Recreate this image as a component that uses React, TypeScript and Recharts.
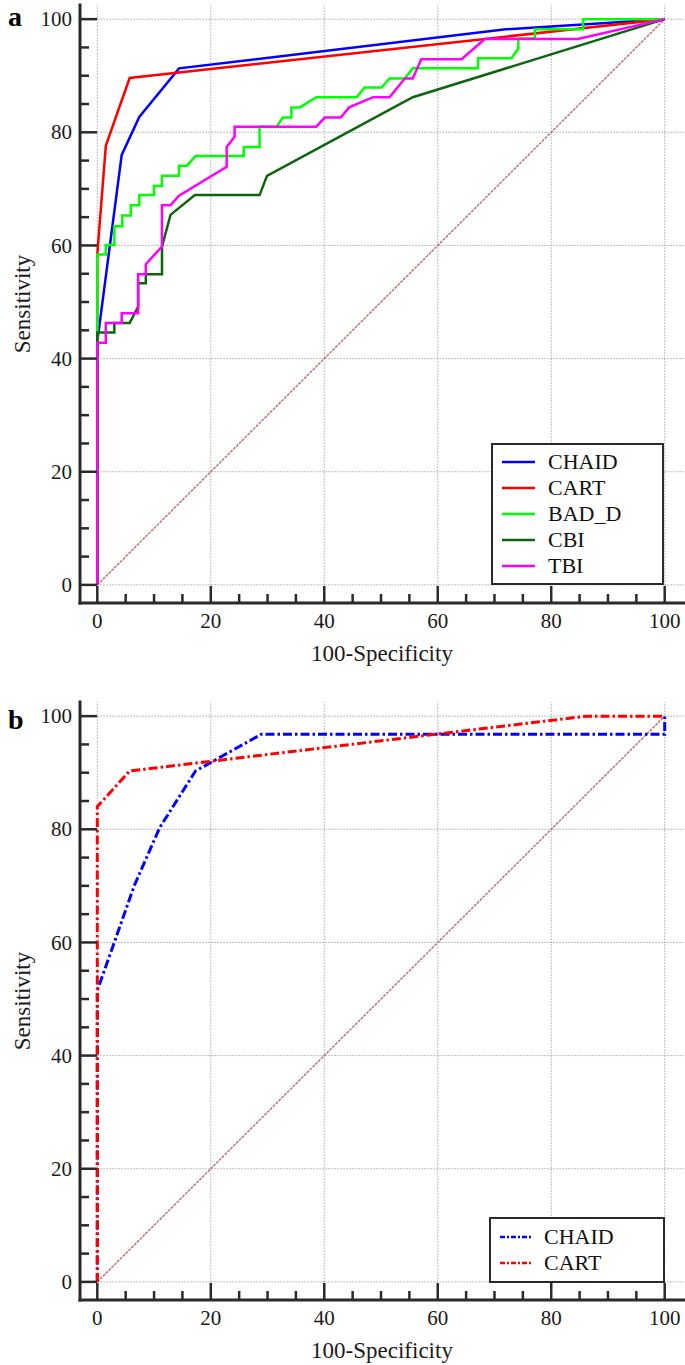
import React from 'react';
import { LineChart, Line, XAxis, YAxis, ReferenceLine, Legend } from 'recharts';

const FONT = '"Liberation Serif", "Times New Roman", Times, serif';
const AXIS_COLOR = '#2a2a2a';
const TEXT_COLOR = '#1a1a1a';
const GRID_COLOR = '#a8a8a8';

// ---- axes ----
const TICKS = [0, 5, 10, 15, 20, 25, 30, 35, 40, 45, 50, 55, 60, 65, 70, 75, 80, 85, 90, 95, 100];
const MAJOR_TICKS = [0, 20, 40, 60, 80, 100];
const X_DOMAIN: [number, number] = [-3.05, 103.4];
const Y_DOMAIN: [number, number] = [-3.2, 102.5];
const X_TITLE = '100-Specificity';
const Y_TITLE = 'Sensitivity';

// ---- reference diagonal ----
const DIAG_X = [0, 100];
const DIAG_Y = [0, 100];

// ---- panel a ----
const CHAID_A_X = [0, 0, 4.3, 7.4, 14.4, 72, 100];
const CHAID_A_Y = [0, 43, 76, 82.7, 91.3, 98.2, 100];

const CART_A_X = [0, 0, 1.5, 5.7, 100];
const CART_A_Y = [0, 58.5, 77.6, 89.6, 100];

const BADD_A_X = [0, 0, 1.5, 1.5, 3.0, 3.0, 4.4, 4.4, 5.9, 5.9, 7.4, 7.4, 10.0, 10.0, 11.4, 11.4, 14.4, 14.4, 15.8, 17.3, 25.8, 25.8, 28.6, 28.6, 31.6, 32.7, 34.2, 34.2, 35.7, 38.6, 45.7, 47.1, 50.1, 51.5, 54.2, 55.6, 67.1, 67.1, 73.0, 74.2, 74.2, 77.1, 77.1, 85.6, 85.6, 100];
const BADD_A_Y = [0, 58.4, 58.4, 60.1, 60.1, 63.4, 63.4, 65.3, 65.3, 67.1, 67.1, 68.9, 68.9, 70.5, 70.5, 72.3, 72.3, 74.1, 74.1, 75.8, 75.8, 77.4, 77.4, 81.0, 81.0, 82.6, 82.6, 84.4, 84.4, 86.2, 86.2, 87.9, 87.9, 89.5, 89.5, 91.3, 91.3, 93.1, 93.1, 94.8, 96.6, 96.6, 98.2, 98.2, 100, 100];

const CBI_A_X = [0, 0, 3.0, 3.0, 5.7, 7.2, 7.2, 8.55, 8.55, 11.4, 11.4, 12.9, 17.2, 28.6, 29.9, 55.6, 100];
const CBI_A_Y = [0, 44.6, 44.6, 46.3, 46.3, 49.2, 53.3, 53.3, 54.9, 54.9, 59.8, 65.4, 68.9, 68.9, 72.3, 86.2, 100];

const TBI_A_X = [0, 0, 1.5, 1.5, 4.3, 4.3, 7.2, 7.2, 8.55, 8.55, 11.4, 11.4, 12.9, 14.4, 22.8, 22.8, 24.2, 24.2, 38.6, 40.1, 42.9, 44.4, 48.6, 51.5, 54.2, 55.6, 57.1, 64.2, 68.3, 84.7, 100];
const TBI_A_Y = [0, 42.8, 42.8, 46.3, 46.3, 48.0, 48.0, 54.9, 54.9, 56.7, 59.8, 67.1, 67.1, 68.8, 73.9, 77.4, 79.2, 81.0, 81.0, 82.6, 82.6, 84.4, 86.2, 86.2, 89.5, 89.5, 92.9, 92.9, 96.5, 96.5, 100];

// ---- panel b ----
const CHAID_B_X = [0, 0, 6.5, 11, 17.3, 28.9, 100, 100];
const CHAID_B_Y = [0, 51.5, 70, 80.3, 90.3, 96.8, 96.8, 100];

const CART_B_X = [0, 0, 5.7, 86.2, 100];
const CART_B_Y = [0, 84, 90.3, 100, 100];

type Series = { name: string; color: string; xs: number[]; ys: number[]; dash?: string; width: number };

const SERIES_A: Series[] = [
  { name: 'CHAID', color: '#0000ff', xs: CHAID_A_X, ys: CHAID_A_Y, width: 2.5 },
  { name: 'CART', color: '#ff0000', xs: CART_A_X, ys: CART_A_Y, width: 2.5 },
  { name: 'BAD_D', color: '#00ff00', xs: BADD_A_X, ys: BADD_A_Y, width: 2.5 },
  { name: 'CBI', color: '#0d650d', xs: CBI_A_X, ys: CBI_A_Y, width: 2.5 },
  { name: 'TBI', color: '#ff00ff', xs: TBI_A_X, ys: TBI_A_Y, width: 2.5 },
];

const SERIES_B: Series[] = [
  { name: 'CHAID', color: '#0000ff', xs: CHAID_B_X, ys: CHAID_B_Y, dash: '9 3 2.5 3', width: 3 },
  { name: 'CART', color: '#ff0000', xs: CART_B_X, ys: CART_B_Y, dash: '9 3 2.5 3', width: 3 },
];

const toPoints = (xs: number[], ys: number[]) => xs.map((x, i) => ({ x, y: ys[i] }));

const XTick = (props: any) => {
  const { x, y, payload } = props;
  const v = payload.value;
  const major = MAJOR_TICKS.includes(v);
  return (
    <g>
      <line x1={x} x2={x} y1={y} y2={y - (major ? 17 : 9)} stroke={AXIS_COLOR} strokeWidth={2.5} />
      {major && (
        <text x={x} y={y + 25} textAnchor="middle" fontFamily={FONT} fontSize={21} fill={TEXT_COLOR}>
          {v}
        </text>
      )}
    </g>
  );
};

const YTick = (props: any) => {
  const { x, y, payload } = props;
  const v = payload.value;
  const major = MAJOR_TICKS.includes(v);
  return (
    <g>
      <line x1={x} x2={x + (major ? 17 : 9)} y1={y} y2={y} stroke={AXIS_COLOR} strokeWidth={2.5} />
      {major && (
        <text x={x - 8} y={y} dy="0.34em" textAnchor="end" fontFamily={FONT} fontSize={21} fill={TEXT_COLOR}>
          {v}
        </text>
      )}
    </g>
  );
};

const XTitle = (props: any) => {
  const vb = props.viewBox || props;
  return (
    <text x={vb.x + vb.width / 2} y={vb.y + 58} textAnchor="middle" fontFamily={FONT} fontSize={23} fill={TEXT_COLOR}>
      {X_TITLE}
    </text>
  );
};

const YTitle = (props: any) => {
  const vb = props.viewBox || props;
  const cx = 22;
  const cy = vb.y + vb.height / 2;
  return (
    <text x={cx} y={cy} dy="0.35em" textAnchor="middle" transform={`rotate(-90, ${cx}, ${cy})`} fontFamily={FONT} fontSize={23} fill={TEXT_COLOR}>
      {Y_TITLE}
    </text>
  );
};

type LegendBoxProps = { items: Series[]; w: number; h: number; padTop: number; sampleW: number; textGap: number };

const LegendBox = ({ items, w, h, padTop, sampleW, textGap }: LegendBoxProps) => (
  <div
    style={{
      width: w,
      height: h,
      boxSizing: 'border-box',
      border: `2px solid ${AXIS_COLOR}`,
      background: '#fff',
      paddingTop: padTop,
    }}
  >
    {items.map((it) => (
      <div key={it.name} style={{ display: 'flex', alignItems: 'center', height: 26 }}>
        <svg width={sampleW} height={6} style={{ marginLeft: 9, display: 'block' }}>
          <line x1={0} x2={sampleW} y1={3} y2={3} stroke={it.color} strokeWidth={2.5} strokeDasharray={it.dash ? '5 2 2 2' : undefined} />
        </svg>
        <span style={{ marginLeft: textGap, fontFamily: FONT, fontSize: 22, color: '#111', lineHeight: '26px', whiteSpace: 'nowrap' }}>
          {it.name}
        </span>
      </div>
    ))}
  </div>
);

type PanelProps = {
  series: Series[];
  height: number;
  letter: string;
  letterY: number;
  legend: { left: number; top: number; w: number; h: number; padTop: number; sampleW: number; textGap: number };
};

const Panel = ({ series, height, letter, letterY, legend }: PanelProps) => {
  const xAxisHeight = height - 603;
  return (
    <div style={{ position: 'relative', width: 685, height }}>
      <LineChart width={685} height={height} margin={{ top: 5, right: 1, bottom: 0, left: 0 }}>
        <XAxis
          type="number"
          dataKey="x"
          domain={X_DOMAIN}
          ticks={TICKS}
          interval={0}
          tickSize={0}
          tickMargin={0}
          tick={(p: any) => <XTick {...p} />}
          tickLine={false}
          axisLine={{ stroke: AXIS_COLOR, strokeWidth: 3, strokeLinecap: 'square' }}
          height={xAxisHeight}
          allowDataOverflow
          label={(p: any) => <XTitle {...p} />}
        />
        <YAxis
          type="number"
          dataKey="y"
          domain={Y_DOMAIN}
          ticks={TICKS}
          interval={0}
          tickSize={0}
          tickMargin={0}
          tick={(p: any) => <YTick {...p} />}
          tickLine={false}
          axisLine={{ stroke: AXIS_COLOR, strokeWidth: 3, strokeLinecap: 'square' }}
          width={80}
          allowDataOverflow
          label={(p: any) => <YTitle {...p} />}
        />
        {MAJOR_TICKS.map((v) => (
          <ReferenceLine
            key={`h${v}`}
            segment={[{ x: 0, y: v }, { x: X_DOMAIN[1], y: v }]}
            stroke={GRID_COLOR}
            strokeDasharray="1.5 1.5"
            strokeWidth={1}
            ifOverflow="visible"
          />
        ))}
        {MAJOR_TICKS.map((v) => (
          <ReferenceLine
            key={`v${v}`}
            segment={[{ x: v, y: 0 }, { x: v, y: Y_DOMAIN[1] }]}
            stroke={GRID_COLOR}
            strokeDasharray="1.5 1.5"
            strokeWidth={1}
            ifOverflow="visible"
          />
        ))}
        <Line
          data={toPoints(DIAG_X, DIAG_Y)}
          dataKey="y"
          type="linear"
          stroke="#c07575"
          strokeWidth={1.5}
          strokeDasharray="3 1"
          dot={false}
          activeDot={false}
          legendType="none"
          isAnimationActive={false}
        />
        {series.map((s) => (
          <Line
            key={s.name}
            name={s.name}
            data={toPoints(s.xs, s.ys)}
            dataKey="y"
            type="linear"
            stroke={s.color}
            strokeWidth={s.width}
            strokeDasharray={s.dash}
            dot={false}
            activeDot={false}
            isAnimationActive={false}
          />
        ))}
        <Legend
          layout="vertical"
          align="center"
          verticalAlign="middle"
          wrapperStyle={{ left: legend.left, top: legend.top, width: legend.w, height: legend.h }}
          content={() => (
            <LegendBox
              items={series}
              w={legend.w}
              h={legend.h}
              padTop={legend.padTop}
              sampleW={legend.sampleW}
              textGap={legend.textGap}
            />
          )}
        />
      </LineChart>
      <svg width={50} height={50} style={{ position: 'absolute', left: 0, top: 0 }}>
        <text x={8} y={letterY} fontFamily={FONT} fontWeight="bold" fontSize={28} fill="#000">
          {letter}
        </text>
      </svg>
    </div>
  );
};

export default function App() {
  return (
    <div style={{ position: 'absolute', left: 0, top: 0, width: 685, height: 1365, background: '#fff' }}>
      <div style={{ position: 'absolute', left: 0, top: 0 }}>
        <Panel
          series={SERIES_A}
          height={680}
          letter="a"
          letterY={26}
          legend={{ left: 491, top: 443, w: 173, h: 142, padTop: 4, sampleW: 33, textGap: 13 }}
        />
      </div>
      <div style={{ position: 'absolute', left: 0, top: 697 }}>
        <Panel
          series={SERIES_B}
          height={668}
          letter="b"
          letterY={32}
          legend={{ left: 489, top: 520, w: 176, h: 66, padTop: 5, sampleW: 32, textGap: 12 }}
        />
      </div>
    </div>
  );
}
